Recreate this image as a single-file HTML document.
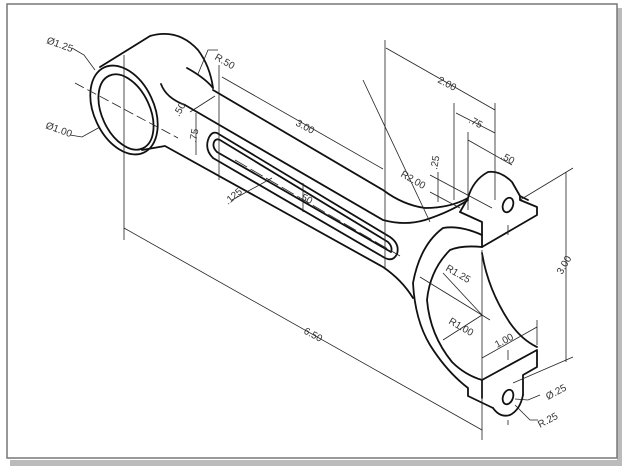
<!DOCTYPE html>
<html><head><style>
html,body{margin:0;padding:0;background:#fff;}
svg{display:block;}
text{font-family:"Liberation Sans",sans-serif;font-size:10px;fill:#333;}
</style></head><body>
<svg width="624" height="468" viewBox="0 0 624 468" xmlns="http://www.w3.org/2000/svg">
<rect x="0" y="0" width="624" height="468" fill="#fff"/>
<rect x="10" y="460" width="612" height="6" fill="#bbb"/>
<rect x="617" y="8" width="5" height="458" fill="#bbb"/>
<rect x="7" y="4" width="610" height="454" fill="#fff" stroke="#777" stroke-width="1.5"/>
<g fill="none" stroke="#111" stroke-width="1.8" stroke-linecap="round" stroke-linejoin="round">
<ellipse cx="124" cy="110" rx="30" ry="47" transform="rotate(-25 124 110)"/>
<ellipse cx="126" cy="112" rx="24" ry="40" transform="rotate(-25 126 112)"/>
<path d="M100 67 L150 36 Q178 28 198 50 Q210 66 213 88"/>
<path d="M187 68 Q205 78 213 88"/>
<path d="M161 84 Q166 98 185 105 L383 220 Q405 226 425 220 Q450 212 468 200"/>
<path d="M213 90 L383 190 Q403 205 425 208 Q450 208 468 198"/>
<path d="M142 150 L165 146 L383 267 Q402 280 413 298"/>
<path d="M217 133 L390 237 Q400 244 397 254 Q393 262 385 258 L213 158 Q205 150 208 140 Q211 131 217 133 Z"/>
<path d="M220 140 L388 242 Q393 247 391 252 L217 152 Q212 147 214 142 Q216 138 220 140 Z"/>
<path d="M468 198 Q473 180 488 172 Q500 170 512 182 L520 196 L520 200 L537 207 L537 215 L482 247"/>
<path d="M520 196 L528 200"/>
<ellipse cx="508" cy="205" rx="5" ry="7.5" transform="rotate(20 508 205)"/>
<path d="M460 212 L482 222 L482 247"/>
<path d="M468 198 L460 212"/>
<path d="M482 235 Q460 225 443 228 Q420 245 413 283 Q415 320 430 345 Q447 372 468 388 L468 396 L493 408"/>
<path d="M482 247 Q462 245 450 250 Q430 270 427 300 Q430 335 452 362 Q465 375 482 380"/>
<path d="M482 253 Q488 290 510 323 Q522 340 537 347"/>
<path d="M482 380 L537 350 L537 367 L523 375 L523 395"/>
<path d="M482 380 L482 398"/>
<path d="M493 408 Q500 418 510 415 Q520 410 523 395"/>
<ellipse cx="508" cy="397" rx="5" ry="7.5" transform="rotate(20 508 397)"/>
</g>
<g fill="none" stroke="#222" stroke-width="0.8">
<line x1="124" y1="55" x2="124" y2="240"/>
<line x1="219" y1="65" x2="219" y2="180"/>
<line x1="385" y1="40" x2="385" y2="268"/>
<line x1="124" y1="228" x2="482" y2="430"/>
<line x1="482" y1="250" x2="482" y2="440"/>
<line x1="222" y1="77" x2="383" y2="169"/>
<line x1="386" y1="48" x2="495" y2="110"/>
<line x1="495" y1="103" x2="495" y2="200"/>
<line x1="454" y1="103" x2="454" y2="200"/>
<line x1="456" y1="113" x2="495" y2="133"/>
<line x1="468" y1="132" x2="468" y2="210"/>
<line x1="468" y1="140" x2="512" y2="165"/>
<line x1="363" y1="80" x2="430" y2="222"/>
<line x1="438" y1="172" x2="438" y2="202"/>
<line x1="430" y1="175" x2="492" y2="208"/>
<line x1="430" y1="192" x2="460" y2="208"/>
<line x1="520" y1="200" x2="573" y2="168"/>
<line x1="513" y1="383" x2="573" y2="357"/>
<line x1="566" y1="172" x2="566" y2="362"/>
<line x1="482" y1="358" x2="537" y2="327"/>
<line x1="537" y1="320" x2="537" y2="345"/>
<line x1="443" y1="273" x2="482" y2="315"/>
<line x1="443" y1="340" x2="482" y2="315"/>
<line x1="420" y1="277" x2="490" y2="320"/>
<line x1="508" y1="225" x2="508" y2="235"/>
<line x1="508" y1="350" x2="508" y2="360"/>
<line x1="508" y1="425" x2="508" y2="420"/>
<line x1="75" y1="83" x2="178" y2="138" stroke-dasharray="10 4"/>
<line x1="235" y1="160" x2="400" y2="256" stroke-dasharray="14 4"/>
<line x1="196" y1="113" x2="196" y2="155"/>
<line x1="303" y1="183" x2="303" y2="212"/>
<line x1="190" y1="112" x2="215" y2="96"/>
<line x1="232" y1="200" x2="272" y2="178"/>
<path d="M72 48 L84 55 L95 70"/><path d="M70 135 L82 137 L100 127"/>
<path d="M218 50 L208 50 L198 74"/>
<path d="M540 395 L528 400 L515 399"/><path d="M538 420 L530 420 L515 405"/>
</g>
<g>
<text x="46" y="43" transform="rotate(20 46 43)">Ø1.25</text>
<text x="45" y="128" transform="rotate(20 45 128)">Ø1.00</text>
<text x="214" y="59" transform="rotate(30 214 59)">R.50</text>
<text x="179" y="117" transform="rotate(-60 179 117)">.50</text>
<text x="196" y="143" transform="rotate(-80 196 143)">.75</text>
<text x="295" y="125" transform="rotate(28 295 125)">3.00</text>
<text x="228" y="205" transform="rotate(-40 228 205)">.125</text>
<text x="298" y="198" transform="rotate(28 298 198)">.50</text>
<text x="437" y="82" transform="rotate(28 437 82)">2.00</text>
<text x="468" y="122" transform="rotate(28 468 122)">.75</text>
<text x="500" y="158" transform="rotate(28 500 158)">.50</text>
<text x="437" y="170" transform="rotate(-80 437 170)">.25</text>
<text x="400" y="176" transform="rotate(30 400 176)">R2.00</text>
<text x="445" y="270" transform="rotate(30 445 270)">R1.25</text>
<text x="448" y="323" transform="rotate(30 448 323)">R1.00</text>
<text x="497" y="348" transform="rotate(-28 497 348)">1.00</text>
<text x="562" y="275" transform="rotate(-60 562 275)">3.00</text>
<text x="303" y="333" transform="rotate(28 303 333)">6.50</text>
<text x="548" y="400" transform="rotate(-28 548 400)">Ø.25</text>
<text x="540" y="428" transform="rotate(-28 540 428)">R.25</text>
</g>
</svg>
</body></html>
